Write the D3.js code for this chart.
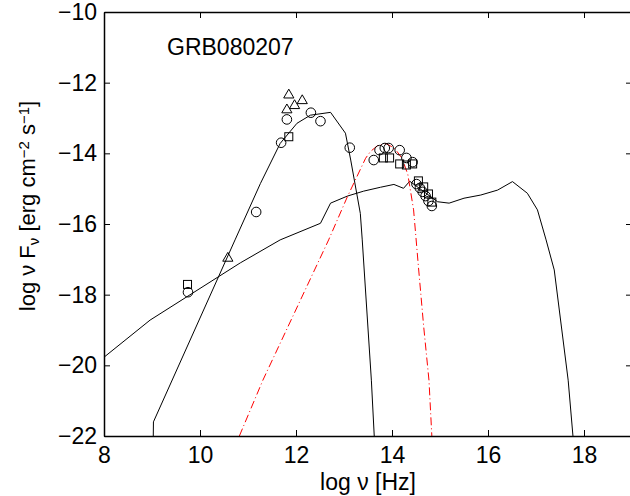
<html>
<head>
<meta charset="UTF-8">
<script src="https://d3js.org/d3.v7.min.js"></script>
<style>
  body { margin: 0; background: #ffffff; }
  text { font-family: "Liberation Sans", Arial, sans-serif; fill: #000; }
</style>
</head>
<body>
<div id="container"></div>
<script>
// ---- data (log nu, log nuFnu) ----
const xTicks = [8, 10, 12, 14, 16, 18];
const yTicks = [-22, -20, -18, -16, -14, -12, -10];

// steep synchrotron-like component
const synX = [9.00, 9.03, 10.73, 11.26, 11.67, 12.02, 12.30, 12.72, 13.03, 13.14, 13.34, 13.38, 13.57, 13.63, 13.70];
const synY = [-25, -21.6, -16.45, -14.85, -13.72, -13.15, -12.92, -12.84, -13.43, -14.19, -15.7, -16.45, -20.42, -22, -25];

// broad component
const broadX = [8.0, 8.96, 10.84, 11.67, 12.51, 12.72, 13.07, 13.41, 13.76, 14.04, 14.24, 14.37, 14.81, 14.95, 15.19, 15.50, 15.85, 16.20, 16.51, 16.82, 17.03, 17.21, 17.38, 17.67, 17.77, 17.85];
const broadY = [-19.77, -18.72, -17.1, -16.45, -15.98, -15.41, -15.21, -15.07, -14.96, -14.88, -14.99, -14.79, -15.23, -15.37, -15.41, -15.27, -15.18, -15.04, -14.80, -15.13, -15.60, -16.45, -17.3, -20.42, -22, -24];

// red dash-dot component
const redX = [10.82, 11.31, 12.68, 13.07, 13.45, 13.55, 13.70, 13.87, 14.05, 14.21, 14.33, 14.45, 14.55, 14.66, 14.77, 14.83];
const redY = [-22, -20.42, -16.45, -15.23, -14.14, -13.95, -13.78, -13.72, -13.85, -14.14, -14.6, -15.6, -17.2, -18.9, -20.42, -22];

// observed points
const circX = [9.75, 11.17, 11.69, 11.81, 12.31, 12.51, 13.12, 13.62, 13.74, 13.85, 13.93, 14.16, 14.30, 14.43, 14.51, 14.58, 14.64, 14.70, 14.76, 14.83];
const circY = [-17.93, -15.66, -13.70, -13.04, -12.85, -13.09, -13.84, -14.19, -13.91, -13.85, -13.85, -13.91, -14.13, -14.25, -14.87, -14.98, -15.09, -15.21, -15.35, -15.49];
const sqX = [9.74, 11.85, 13.82, 13.95, 14.16, 14.30, 14.43, 14.55, 14.66, 14.76, 14.83];
const sqY = [-17.71, -13.53, -14.13, -14.13, -14.30, -14.33, -14.30, -14.78, -14.95, -15.15, -15.38];
const triX = [10.58, 11.81, 11.85, 11.97, 12.13];
const triY = [-16.97, -12.77, -12.35, -12.65, -12.51];

const width = 630, height = 496;
const margin = { top: 12, left: 104, right: -2, bottom: 60 };
const innerW = width - margin.left - margin.right;
const innerH = height - margin.top - margin.bottom;
const fontSize = "23px";

const svg = d3.select("#container").append("svg")
  .attr("width", width)
  .attr("height", height);

const xScale = d3.scaleLinear().domain([8, 19]).range([0, innerW]);
const yScale = d3.scaleLinear().domain([-22, -10]).range([innerH, 0]);

const g = svg.append("g").attr("transform", `translate(${margin.left},${margin.top})`);

g.append("clipPath").attr("id", "clip")
  .append("rect").attr("width", innerW).attr("height", innerH);

const zip = (xs, ys) => xs.map((x, i) => [x, ys[i]]);
const line = d3.line().x(d => xScale(d[0])).y(d => yScale(d[1]));

const plot = g.append("g").attr("clip-path", "url(#clip)");

plot.append("path").attr("d", line(zip(synX, synY)))
  .attr("fill", "none").attr("stroke", "#000").attr("stroke-width", 1);
plot.append("path").attr("d", line(zip(broadX, broadY)))
  .attr("fill", "none").attr("stroke", "#000").attr("stroke-width", 1);
plot.append("path").attr("d", line(zip(redX, redY)))
  .attr("fill", "none").attr("stroke", "#ff0000").attr("stroke-width", 1)
  .attr("stroke-dasharray", "8,3,1,3");

// markers
plot.selectAll(".circ").data(zip(circX, circY)).enter().append("circle")
  .attr("cx", d => xScale(d[0])).attr("cy", d => yScale(d[1])).attr("r", 4.8)
  .attr("fill", "none").attr("stroke", "#000").attr("stroke-width", 1);
plot.selectAll(".sq").data(zip(sqX, sqY)).enter().append("rect")
  .attr("x", d => xScale(d[0]) - 4).attr("y", d => yScale(d[1]) - 4)
  .attr("width", 8).attr("height", 8)
  .attr("fill", "none").attr("stroke", "#000").attr("stroke-width", 1);
const tri = d3.symbol().type(d3.symbolTriangle).size(45);
plot.selectAll(".tri").data(zip(triX, triY)).enter().append("path")
  .attr("d", tri)
  .attr("transform", d => `translate(${xScale(d[0])},${yScale(d[1])})`)
  .attr("fill", "none").attr("stroke", "#000").attr("stroke-width", 1);

// axes: ticks inward on all four sides
const tickLen = 6;
const axB = d3.axisBottom(xScale).tickValues(xTicks).tickSizeInner(-tickLen).tickSizeOuter(0).tickPadding(11);
const axT = d3.axisTop(xScale).tickValues(xTicks).tickSizeInner(-tickLen).tickSizeOuter(0).tickFormat("");
const axL = d3.axisLeft(yScale).tickValues(yTicks).tickSizeInner(-tickLen).tickSizeOuter(0).tickPadding(7)
  .tickFormat(d => d3.format("d")(d).replace("-", "\u2212"));
const axR = d3.axisRight(yScale).tickValues(yTicks).tickSizeInner(-tickLen).tickSizeOuter(0).tickFormat("");

const gB = g.append("g").attr("transform", `translate(0,${innerH})`).call(axB);
const gT = g.append("g").call(axT);
const gL = g.append("g").call(axL);
const gR = g.append("g").attr("transform", `translate(${innerW},0)`).call(axR);

[gB, gT, gL, gR].forEach(a => {
  a.select(".domain").attr("stroke", "#000").attr("stroke-width", 1.5);
  a.selectAll(".tick line").attr("stroke", "#000").attr("stroke-width", 1);
  a.selectAll("text").style("font-size", fontSize).attr("fill", "#000")
    .style("font-family", "'Liberation Sans', Arial, sans-serif");
});
gB.selectAll(".tick text").attr("dy", "0.71em");

// labels
svg.append("text")
  .attr("x", 368).attr("y", 490)
  .attr("text-anchor", "middle")
  .style("font-size", fontSize)
  .text("log \u03bd [Hz]");

const yl = svg.append("text")
  .attr("transform", "translate(35,206) rotate(-90)")
  .attr("text-anchor", "middle")
  .style("font-size", "22px");
yl.append("tspan").text("log \u03bd F");
yl.append("tspan").attr("baseline-shift", "-25%").style("font-size", "15px").text("\u03bd");
yl.append("tspan").text(" [erg cm");
yl.append("tspan").attr("baseline-shift", "40%").style("font-size", "15px").text("\u22122");
yl.append("tspan").text(" s");
yl.append("tspan").attr("baseline-shift", "40%").style("font-size", "15px").text("\u22121");
yl.append("tspan").text("]");

svg.append("text")
  .attr("x", 167).attr("y", 55)
  .style("font-size", fontSize)
  .text("GRB080207");
</script>
</body>
</html>
